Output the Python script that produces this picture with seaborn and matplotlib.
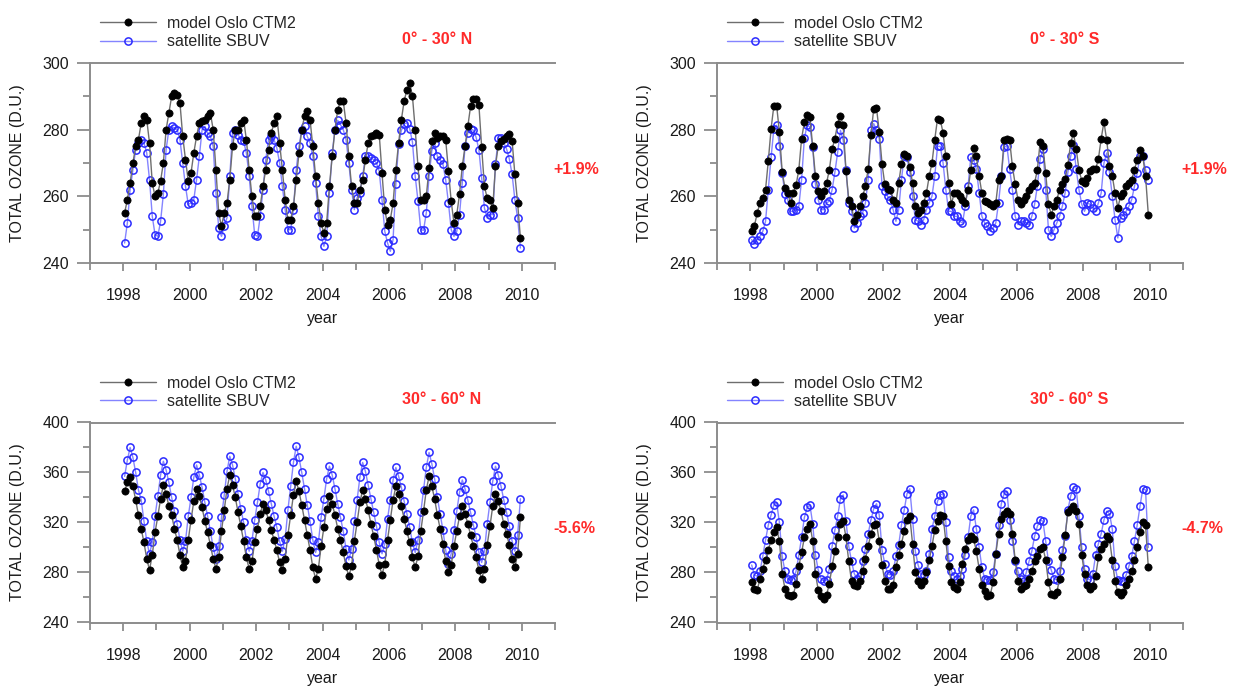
import matplotlib
matplotlib.use("Agg")
import matplotlib.pyplot as plt
import seaborn as sns
from matplotlib.ticker import MultipleLocator

sns.set_style("white")
plt.rcParams['font.family'] = ['Liberation Sans', 'DejaVu Sans']

# monthly time axis, Jan 1998 .. Dec 2009 (decimal year, mid-month)
months = [y + (m - 0.5) / 12 for y in range(1998, 2010) for m in range(1, 13)]

# ---- 0-30 N ----
model_0_30N = [
    255, 259, 264, 270, 275, 277, 282, 284, 283, 276, 264, 260,
    261, 264.6, 270, 280, 285, 290, 291, 290.5, 288, 278, 271, 264.6,
    267, 273, 278, 282, 282.5, 283, 284, 285, 280, 268, 255, 251,
    255, 258, 265, 275, 280, 280, 282, 283, 277, 268, 260, 254,
    254, 257, 263, 268, 274, 279, 282, 284, 276, 268, 259, 253,
    253, 257, 265, 273, 280, 284, 285.5, 283, 275, 266, 258, 252,
    249, 252, 263, 272, 280, 286, 288.6, 288.6, 282, 272, 263, 258,
    258, 262, 265, 271, 276, 278, 278.5, 279, 278.5, 267, 256, 251.5,
    253, 258, 268, 276, 283, 288.6, 292, 294, 290, 280, 269, 259,
    259, 260, 268.5, 276.5, 279, 277.5, 278, 278.2, 277, 267.6, 258.5, 252,
    254.5, 260.6, 269, 275, 281, 287, 289.3, 289.3, 287.5, 274.7, 263, 259.5,
    259, 256.5, 269.2, 275.2, 276.7, 277.2, 278, 278.7, 276.7, 266.6, 258, 247.5,
]
sbuv_0_30N = [
    246, 252, 262, 268, 274, 276, 277, 276, 273, 265, 254, 248.5,
    248, 252.5, 260.6, 274, 280, 281, 280.5, 280, 277, 270, 263, 257.6,
    258, 259, 265, 272, 280, 281, 279, 278, 275, 261, 250.5, 248,
    251, 253.6, 266, 279, 280, 278.5, 277, 276.5, 273, 266, 257, 248.5,
    248, 254, 262, 271, 277, 278, 277, 274.5, 270, 263, 256, 250,
    250, 256, 268, 275, 280, 281, 278, 276, 272, 264, 254, 248,
    245, 248, 261, 273, 280, 282.8, 281.5, 280, 277, 270, 262, 256,
    259.6, 261, 266, 272, 272, 271.5, 271, 270, 267.5, 259, 249.5, 246,
    243.5, 247, 263.6, 275.7, 279.8, 281.8, 282, 280.3, 276.3, 266, 258.6, 250,
    249.8, 255, 266, 273.7, 276, 272, 271, 269.7, 265, 258, 250, 248,
    249.5, 254.5, 264, 275, 279, 280.3, 279.8, 277.7, 274, 265.6, 256.5, 253.5,
    254.5, 254.5, 269.7, 277.4, 277.4, 276, 274.2, 271.2, 266.6, 259, 253.5, 244.5,
]

# ---- 0-30 S ----
model_0_30S = [
    249.5, 251.2, 255, 258, 259.6, 262, 270.7, 280.3, 287.2, 287.2, 279.3, 267.2,
    262.6, 261, 258, 261, 263.3, 268, 277.3, 282.3, 284.3, 283.8, 275, 266,
    261.6, 260, 261.6, 264, 268, 274.2, 277.3, 281.8, 284.1, 281.3, 267.7, 259,
    257, 252.5, 254.5, 257, 260, 263, 268.2, 278.3, 286.3, 286.5, 279.3, 269.7,
    263.6, 262.3, 261.9, 259, 258, 264, 269.7, 272.7, 272.2, 268.7, 264, 257,
    255, 256, 258, 261, 266, 270, 277, 283.3, 283, 279, 272, 264,
    257.6, 261, 261, 260, 259, 258, 262, 268, 274.4, 272, 266, 261,
    258.6, 258.4, 257.6, 257, 258, 265, 266, 277, 277.3, 276.8, 269, 263.6,
    259, 257.6, 259, 260, 262, 263, 264, 268, 276.3, 275, 267, 257.6,
    254.5, 257, 259, 262, 263.6, 265.3, 269.4, 276, 279, 274.2, 268, 264.6,
    264, 265.6, 267.7, 268.2, 268.2, 271.2, 277.3, 282.3, 276.8, 269.2, 266.2, 261,
    256.6, 260, 261, 263, 264, 265, 268, 271, 274, 272, 266, 254.5,
]
sbuv_0_30S = [
    247, 245.8, 247, 248, 249.5, 252.5, 262, 271.7, 280.3, 281.3, 275.2, 267,
    260.6, 259, 255.5, 255.5, 256, 257, 265, 277.5, 281.3, 280.8, 274.7, 263.6,
    259, 256, 256, 258, 258.6, 262, 267.2, 273.2, 279.8, 276.8, 268, 258,
    255.5, 250.5, 252, 254, 255, 258, 265, 279.8, 281.8, 279.8, 277.3, 263,
    261.6, 260, 259, 256, 252.5, 256, 265, 272.2, 271.7, 267.2, 260, 253,
    252.5, 251.5, 253, 256, 258, 260, 266, 275, 275, 270, 262, 255.5,
    255.5, 254, 254, 252.5, 252, 257, 263, 271.7, 271, 268.2, 261, 254,
    252, 251, 249.5, 250.5, 252, 258, 266, 274.7, 275.2, 268.2, 262, 254,
    251.5, 252.5, 252.5, 252, 251.5, 254, 257.6, 263.1, 271.2, 274.2, 262, 250,
    248, 250, 252, 254, 257, 261, 267.2, 272, 275.5, 268.2, 262, 257.6,
    255.5, 258, 257.6, 256.6, 255.5, 258, 261, 270, 273, 267.2, 260, 253,
    247.5, 253.5, 254.5, 255.5, 257, 259, 263, 267, 272, 272, 268, 265,
]

# ---- 30-60 N ----
model_30_60N = [
    345, 352, 356, 349, 338, 326, 315, 304, 291, 282, 294, 312,
    325, 339, 350, 343, 333, 326, 315, 306, 294, 284, 289, 306,
    322, 337, 347, 341, 332, 321, 312, 302, 291, 283, 292, 313,
    330, 347, 358, 350, 340, 328, 317, 305, 292, 283, 289, 304,
    315, 327, 335, 330, 322, 314, 306, 298, 288, 282, 291, 310,
    326, 342, 353, 345, 334, 322, 310, 298, 284, 275, 283, 301,
    316, 331, 341, 335, 326, 315, 306, 296, 285, 277, 285, 305,
    320, 336, 346, 339, 330, 319, 309, 298, 286, 278, 287, 306,
    322, 338, 349, 343, 333, 323, 313, 304, 292, 284, 293, 313,
    329, 346, 357, 349, 339, 326, 315, 303, 289, 280, 286, 301,
    313, 325, 333, 327, 319, 310, 301, 292, 282, 275, 283, 302,
    317, 333, 343, 337, 329, 319, 311, 302, 291, 284, 295, 324,
]
sbuv_30_60N = [
    357, 370, 380, 372, 360, 346, 338, 321, 305, 295, 304, 325,
    341, 358, 369, 362, 352, 340, 329, 319, 306, 297, 305, 325,
    340, 356, 366, 358, 348, 336, 325, 313, 300, 291, 301, 324,
    342, 361, 373, 366, 355, 343, 331, 320, 306, 297, 305, 322,
    336, 351, 360, 354, 345, 335, 325, 316, 305, 297, 307, 330,
    349, 368, 381, 372, 360, 347, 334, 321, 306, 296, 304, 324,
    339, 355, 365, 358, 347, 335, 324, 313, 299, 290, 299, 321,
    338, 356, 368, 361, 350, 339, 328, 317, 304, 295, 303, 323,
    338, 354, 364, 357, 348, 337, 327, 316, 304, 296, 306, 328,
    346, 364, 376, 367, 355, 340, 327, 314, 298, 287, 295, 314,
    329, 344, 354, 347, 338, 328, 318, 308, 296, 288, 297, 319,
    336, 353, 365, 358, 349, 338, 328, 317, 305, 297, 310, 339,
]

# ---- 30-60 S ----
model_30_60S = [
    272, 267, 266, 275, 283, 290, 298, 306, 312, 316, 305, 279,
    267, 262, 261, 262, 271, 285, 296, 308, 315, 319, 305, 279,
    266, 261, 259, 262, 271, 285, 297, 308, 319, 321, 308, 289,
    273, 270, 269, 273, 281, 291, 301, 311, 318, 319, 305, 286,
    273, 267, 267, 270, 284, 294, 303, 313, 322, 325, 303, 280,
    273, 270, 273, 280, 290, 301, 314, 321, 326, 325, 305, 285,
    272, 268, 267, 272, 287, 299, 306, 309, 307, 297, 283, 270,
    265, 261, 262, 272, 295, 311, 323, 327, 329, 327, 311, 290,
    273, 267, 269, 270, 275, 281, 289, 293, 299, 300, 290, 272,
    263, 262, 264, 275, 292, 310, 328, 331, 333, 329, 319, 294,
    279, 270, 267, 269, 277, 292, 299, 303, 309, 307, 290, 273,
    264, 262, 264, 270, 275, 281, 290, 300, 312, 320, 318, 284,
]
sbuv_30_60S = [
    286, 278, 277, 281, 293, 306, 318, 326, 334, 336, 320, 293,
    281, 275, 274, 275, 281, 294, 308, 324, 332, 334, 319, 294,
    282, 275, 273, 274, 283, 301, 314, 325, 339, 342, 321, 301,
    289, 279, 275, 277, 289, 299, 311, 322, 331, 335, 326, 298,
    287, 279, 278, 281, 293, 302, 318, 330, 343, 347, 323, 297,
    286, 279, 278, 281, 295, 315, 325, 337, 342, 343, 320, 292,
    281, 277, 275, 277, 283, 294, 308, 325, 330, 315, 300, 284,
    275, 274, 274, 280, 295, 318, 335, 343, 345, 322, 305, 289,
    281, 275, 273, 280, 289, 297, 309, 317, 322, 321, 305, 289,
    282, 275, 274, 281, 298, 309, 330, 341, 348, 347, 325, 300,
    283, 275, 274, 279, 294, 303, 311, 322, 329, 327, 315, 285,
    274, 273, 273, 278, 285, 293, 305, 318, 333, 347, 346, 300,
]

regions = ["0\u00b0 - 30\u00b0 N", "0\u00b0 - 30\u00b0 S", "30\u00b0 - 60\u00b0 N", "30\u00b0 - 60\u00b0 S"]
trends = ["+1.9%", "+1.9%", "-5.6%", "-4.7%"]
models = [model_0_30N, model_0_30S, model_30_60N, model_30_60S]
sbuvs = [sbuv_0_30N, sbuv_0_30S, sbuv_30_60N, sbuv_30_60S]

W, H = 1233, 687
fig = plt.figure(figsize=(W / 100, H / 100), dpi=100)

# axes boxes in pixels: left, top, right, bottom
boxes = [(90, 63, 555, 263), (717, 63, 1183, 263),
         (90, 422.5, 555, 622.5), (717, 422.5, 1183, 622.5)]
ylims = [(240, 300, 20, 10), (240, 300, 20, 10), (240, 400, 40, 20), (240, 400, 40, 20)]

FS = 11.5
spine_c = "#8c8c8c"
red = "#ff2a2a"

for i in range(4):
    l, t, r, b = boxes[i]
    ax = fig.add_axes([l / W, 1 - b / H, (r - l) / W, (b - t) / H])

    sns.lineplot(x=months, y=sbuvs[i], ax=ax, errorbar=None, color="#8484ff", linewidth=1.0,
                 marker="o", markersize=5.2, markerfacecolor="none",
                 markeredgecolor="#2b2bff", markeredgewidth=1.1, label="satellite SBUV")
    sns.lineplot(x=months, y=models[i], ax=ax, errorbar=None, color="#6e6e6e", linewidth=1.0,
                 marker="o", markersize=5.2, markerfacecolor="black",
                 markeredgecolor="black", markeredgewidth=0.5, label="model Oslo CTM2")

    y0, y1, maj, mnr = ylims[i]
    ax.set_xlim(1997, 2011)
    ax.set_ylim(y0, y1)
    ax.xaxis.set_major_locator(MultipleLocator(2))
    ax.xaxis.set_minor_locator(MultipleLocator(1))
    ax.yaxis.set_major_locator(MultipleLocator(maj))
    ax.yaxis.set_minor_locator(MultipleLocator(mnr))

    for s in ["left", "bottom", "top"]:
        ax.spines[s].set_color(spine_c)
        ax.spines[s].set_linewidth(1.4)
    ax.spines["right"].set_visible(False)

    ax.tick_params(axis="x", which="major", length=6, width=1.3, color=spine_c,
                   pad=12, labelsize=FS, labelcolor="#1a1a1a", direction="out", bottom=True)
    ax.tick_params(axis="x", which="minor", length=5, width=1.3, color=spine_c,
                   direction="out", bottom=True)
    ax.tick_params(axis="y", which="major", length=9.5, width=1.3, color=spine_c,
                   pad=5.5, labelsize=FS, labelcolor="#1a1a1a", direction="out", left=True)
    ax.tick_params(axis="y", which="minor", length=4.8, width=1.3, color=spine_c,
                   direction="out", left=True)

    ax.set_xlabel("year", fontsize=FS, color="#1a1a1a")
    ax.set_ylabel("TOTAL OZONE (D.U.)", fontsize=FS, color="#1a1a1a")
    ax.xaxis.set_label_coords(0.5, -0.24)
    ax.yaxis.set_label_coords(-0.14, 0.5)

    handles, labels = ax.get_legend_handles_labels()
    ax.legend(handles[::-1], labels[::-1], loc="upper left", bbox_to_anchor=(0.022, 1.235),
              frameon=False, fontsize=FS, handlelength=3.5, handletextpad=0.7,
              labelspacing=0.2, borderpad=0, borderaxespad=0)

    ax.text(0.671, 1.115, regions[i], transform=ax.transAxes, color=red,
            fontsize=FS, fontweight="bold", ha="left", va="center")
    ax.text(0.996, 0.47, trends[i], transform=ax.transAxes, color=red,
            fontsize=FS, fontweight="bold", ha="left", va="center")

fig.savefig("out.png", dpi=100)
